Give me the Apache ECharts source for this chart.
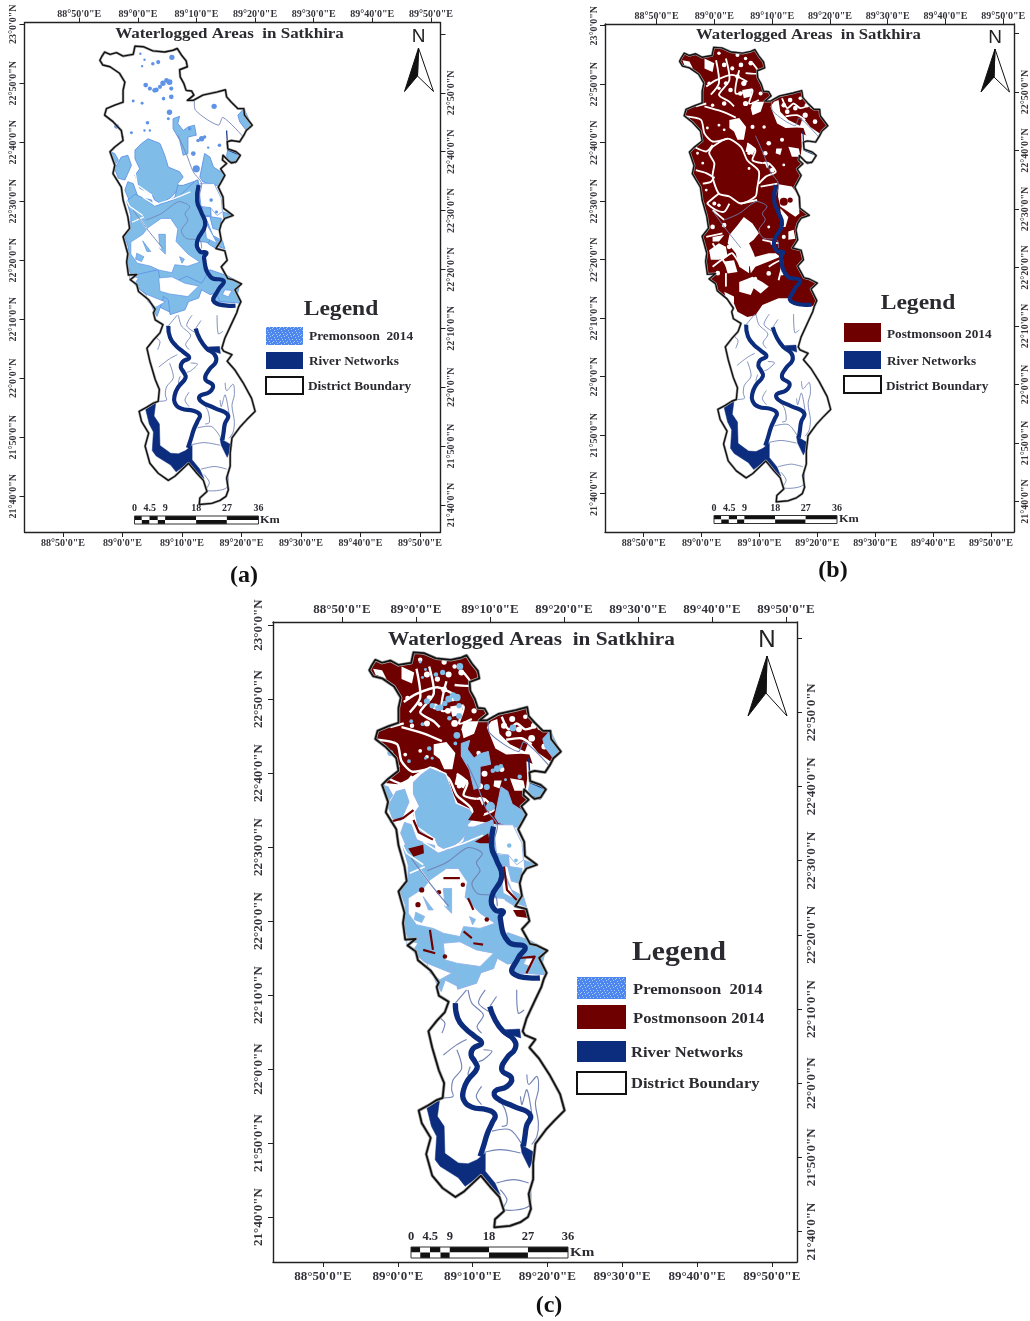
<!DOCTYPE html>
<html><head><meta charset="utf-8">
<style>html,body{margin:0;padding:0;background:#fff}#c{width:1030px;height:1321px}</style>
<script src="https://cdn.jsdelivr.net/npm/echarts@6/dist/echarts.min.js"></script></head>
<body><div id="c"></div>
<script>
// All map data: [arc-minutes east of 88°00', arc-minutes north of 21°00']
const lonTickValues=[50,60,70,80,90,100,110];
const lonTickLabels=["88°50'0\"E","89°0'0\"E","89°10'0\"E","89°20'0\"E","89°30'0\"E","89°40'0\"E","89°50'0\"E"];
const latTickValues=[120,110,100,90,80,70,60,50,40];
const latTickLabels=["23°0'0\"N","22°50'0\"N","22°40'0\"N","22°30'0\"N","22°20'0\"N","22°10'0\"N","22°0'0\"N","21°50'0\"N","21°40'0\"N"];
const scaleLabels=["0","4.5","9","18","27","36"];

const outlineNorthEast=[[56.5,114.5],[57,115.3],[57.9,114.9],[59,115.2],[60.1,114.6],[61.8,114.9],[62.1,116.3],[63.5,116.2],[65.1,115.5],[67.1,115.3],[68.5,115.6],[69.2,115.9],[69.9,114.8],[70.7,113.8],[70.9,112.8],[69.6,112.3],[69.7,111.1],[70.3,110],[70.7,108.8],[71.6,108.7],[72,108],[70.9,107.1],[71.9,107.1],[73.5,108],[75.8,108.5],[77.3,108.9],[77.5,107.7],[78.3,106.8],[79.4,105.7],[80.4,105.7],[80.5,104.6],[81.8,102.9],[80.8,102],[80.4,101.2],[79.7,100.1],[78.3,100.3],[77.6,100.1],[77.7,98.9],[79.1,98.4],[79.8,97.8],[79.1,96.7],[78.3,96.5],[77.9,96.8],[76.9,97.8],[76.8,97],[77.5,96.4],[76.5,95.5],[77.2,94.4],[76.6,93.3],[76.1,92.4],[76.9,90.7],[77,88.8],[78.6,87.6],[77.2,87.1],[76.6,86.2],[76.3,85.1],[76.6,83.4],[75.7,82],[77.2,81.6],[77.6,80],[76.6,78.9],[77.7,76.9],[78.6,76.7],[80,76],[78.9,75],[79.9,73]];
const outlineSouth=[[79.5,72.1],[79.2,71.1],[78.4,69.4],[77.2,66.8],[76.7,65.1],[77,64.6],[78.4,64],[77.6,62.9],[78.9,61.4],[80.3,59.2],[81.7,56.6],[82.3,54.4],[80.9,53],[79.8,51.8],[78.4,49.9],[78.1,47.3],[78.1,45.1],[77.5,43.1],[77.8,41.1],[77.4,40],[76.4,39.3],[75,38.8],[72.9,38.6],[73,39.7],[74.2,40.8],[73.6,42.7],[72.5,43.9],[71.1,45.6],[68.8,43.4],[67.7,42.7],[66,43.9],[64.6,45.6],[63.8,48.5],[64.4,50.7],[63.2,52.7],[62.8,54.4],[64.1,55.1],[65.2,55.8],[66,56.1],[66.2,58.1],[65.5,59.8],[64.6,62.9],[64.1,65.1],[65.2,66.5],[66.3,67.7],[66.8,69.1],[65.5,69.9],[65.2,71.1],[65.5,71.7]];
const outlineWest=[[64.4,73.3],[62.7,74.7],[62.4,75.9],[61.3,76.7],[62.4,77.6],[61,77.5],[60.7,79.7],[60.9,81.1],[60.1,84],[61.2,85.4],[60.9,87.4],[60.1,90.2],[59.8,92.4],[58.4,94.7],[58.7,96.1],[57.9,98.4],[58.7,99.2],[60.1,100.3],[59.8,102],[58.4,103.5],[57,104.6],[57.3,105.7],[58.7,106.3],[60.1,106.8],[60.1,108.8],[60.4,110.2],[59.5,111.7],[57.9,112.8],[56.7,113.1],[56.2,113.9]];
const maroonSouthEdge=[[79.6,72.1],[75.9,72.25],[75.3,73.4],[73.3,73.4],[70.5,72.25],[69.3,70.5],[67.9,70.2],[66.2,71.1],[65.6,72.5],[64.2,73.7]];

const premonsoonAreas=[
[[64.3,100.6],[66.3,99.8],[67.1,97.8],[67.7,95.8],[69.6,95],[70.2,94.1],[69.3,93],[69.5,92.2],[68.2,90.7],[66.5,89.6],[65.4,90.2],[64.9,91.3],[62.9,92.2],[62.1,94.4],[62.9,95.5],[62.1,97.2],[62.1,98.7],[63.2,99.8]],
[[73.8,98.1],[74.7,97.5],[75.3,95.8],[77,94.7],[76.9,93.6],[76.1,92.6],[73.5,93.3],[73,94.1]],
[[70.2,92.7],[72.7,93.6],[73,91],[73.8,87.9],[74.4,85.7],[74.1,83.4],[73,83.4],[71.3,83.4],[69.9,84],[69.3,85.7],[69.1,86.8],[67.7,88.2],[64.6,86.5],[63.7,87.4],[66.3,88.5],[67.1,89.6],[68.8,90.7],[69.3,92.7]],
[[59.8,97.5],[60.9,97.8],[61.5,96.1],[60.4,93.6],[59.3,93.9],[58.7,95.5]],
[[60.9,93.3],[61.8,93],[62.7,90.5],[61.2,90],[60.4,91.9]],
[[63.7,90.5],[64.9,90.2],[65.1,88.5],[64,87.9],[62.9,88.5]],
[[60.7,90.05],[61.4,87.6],[61.4,85.8],[60.3,84.2],[61,82.2],[60.8,79.25],[61.4,77.7],[63,77],[62.1,75.9],[63.6,74.5],[65,73.85],[65.6,72.95],[67,72.95],[66.3,72.05],[68.1,71.15],[70.5,73.4],[72.8,75],[75.4,75.2],[75.4,72.95],[79,72.95],[79.7,75.9],[77.2,75.65],[77.45,76.55],[75,77],[73.7,80.15],[74.1,81.3],[73,81.5],[72.55,83.2],[73.9,83.1],[77.2,81.95],[76.8,83.3],[75.2,84.2],[74.3,86.45],[73,89.15],[73,92.3],[72.55,93.65],[71,92.3],[69.2,90.5],[65.4,89.15],[63.6,90.5],[62.1,91.2]],
[[73.5,88.8],[74.8,88.8],[74.9,87.4],[73.8,87.4]],
[[74.7,87.4],[76.6,87.1],[76.3,85.1],[75.2,85.4]],
[[76.9,88.2],[78.5,87.6],[77,87.1]],
[[74.9,84],[76.6,83.1],[75.7,82],[74.4,82.8]],
[[68.5,104],[69.6,104.4],[69.3,103.2],[70.2,102],[71,102.6],[72.1,102.9],[72.4,101.2],[71,100.9],[71,98.1],[70.2,97.8],[69.6,100.4],[68.5,102.3]],
[[79.4,104.6],[80.4,105.7],[81.8,102.7],[80.8,102],[79.7,103.5]],
[[77.7,98.7],[79.7,97.8],[79,96.7],[77.7,96.8],[77.5,97.8]],
[[57.9,98.4],[58.7,98.1],[59.3,97],[58.7,96.1]],
[[61.3,76.7],[62.4,77.6],[66,78.4],[66.6,75.3],[70.8,77.3],[73.3,76.1],[74.7,78.4],[77.8,77.3],[80,76],[78.9,75],[79.8,72.75],[76.4,73],[75.8,74.4],[74.7,74.2],[73.3,75],[72.8,73.6],[71.1,73],[70.5,71.6],[68,70.8],[67.7,73.3],[66.9,73.9],[66.6,72.75],[65.8,70.5],[65.2,71.6],[64.1,74.2],[63,75]]
];
const premonsoonGaps=[
[[61.4,83.1],[63.4,84.4],[64.3,85.55],[66.5,87.1],[68.1,87.1],[69.3,85.3],[69,83.2],[71,81.05],[73,79.7],[71,79],[68.8,79.25],[68.3,77.9],[66.1,78.35],[64.75,79],[62.5,79.5],[61.4,81.05]],
[[66.1,77],[68.3,77.2],[70.5,76.1],[72.8,75.65],[71,73.85],[67.9,74.3],[66.3,74.75]],
[[73,93],[75.4,93],[76.6,90.5],[76.8,88.25],[75.9,87.6],[74.8,88.9],[73.2,89.15],[73,90.95]],
[[74.1,86.2],[75.2,84.2],[75.9,82.85],[74.1,83.75],[73.9,85.55]],
[[61.2,77.45],[62.7,77],[62.1,76.1],[61.2,76.8]],
[[63.9,74.3],[67.2,72.95],[65.6,72.05],[64.3,72.95]],
[[77.2,75],[78.4,74.9],[77.8,73.8],[76.8,74.2]]
];
const premonsoonStreaks=[
[[63.4,83.3],[64.75,81.5],[64.1,81.5]],
[[66.1,84.4],[67.2,84.4],[67.2,81.05],[66.3,81.95]],
[[73.2,88.9],[74.8,88.9],[74.8,87.6],[73.5,87.6]],
[[62.4,81.2],[63.6,80.6],[63.2,79.8],[62.2,80.2]],
[[69.6,80.6],[70.4,80.2],[70,79.5]]
];
const premonsoonDividers=[
[[60.3,90.95],[61.2,89.15],[63.4,87.6]],
[[63.4,90.7],[65.4,89.4],[68.8,90.5],[71.4,91.6]],
[[63.6,87.35],[61.6,86.45]],
[[62.1,95],[62.5,92.75],[65,91]],
[[63,86.9],[66.5,82]]
];
const premonsoonSpots=[[68.3,114.4,.45],[66,113.6,.35],[65.1,113.3,.3],[63,115,.2],[63.3,112.9,.2],[63.7,114,.2],[63.9,109.7,.4],[64.6,109.1,.35],[65.7,108.9,.4],[66.8,110,.45],[67.9,110.2,.5],[68.2,109.1,.35],[66.9,107.4,.3],[68.2,107.7,.4],[61.8,107,.25],[63.3,106.6,.25],[67.9,105.1,.45],[67.7,104,.25],[64.2,103.3,.3],[64.6,102,.2],[63.7,102,.2],[61.5,101.6,.25],[59,102.7,.4],[75.4,106.1,.45],[73.3,100.6,.45],[74.4,99.1,.2],[76.3,99.5,.3],[71.9,98.1,.4],[74.9,90.2,.3],[75.8,88.2,.25],[72.4,95.5,.6],[60.1,100.9,.2],[73.8,100.9,.3],[72.7,100.3,.3],[71.3,102.3,.3],[65.4,108.8,.4],[66.3,109.4,.35],[67.4,110.5,.4]];

const postmonsoonGaps=[
[[73.3,92.9],[75.6,92.5],[76.7,91.05],[76.9,87.9],[76.2,87.35],[74.5,88.5],[73.6,89.1],[73.2,90.8]],
[[64.8,103.9],[66.5,104.2],[67.7,102.7],[67.3,100.5],[66.2,100.5],[65.6,101.9],[64.8,102.5]],
[[72.9,99],[73.9,99],[73.6,97.9],[72.8,98.2]],
[[75,99.3],[76.8,99],[77.1,97.6],[75.6,97.6]],
[[72.5,107],[73.3,107.3],[73.6,105.3],[75,103.9],[77,102.9],[77.5,104.3],[78.8,102.7],[80.8,101.3],[80.5,100.2],[79.1,100.5],[78,101.3],[77.6,102.5],[76.5,102.6],[74.5,102.5],[73.05,103.3],[71.9,106.2]],
[[77.2,101.6],[77.9,101.3],[80.8,100.7],[80.2,96.5],[78.8,96.4],[77.6,94.2],[77.2,94.8],[77.1,97.6],[77.3,99.3]],
[[64.8,84.2],[66.2,85.9],[67.3,87.3],[68.8,86.2],[69.9,84.5],[69,83.4],[68.2,82.8],[69,81.1],[69.3,80.2],[68.2,78.8],[68.2,77.7],[66.5,78.8],[65.9,81.1],[64.5,82.8]],
[[63,82.8],[64.2,82.2],[64.5,80.5],[63,80],[61.6,80],[61.3,81.6]],
[[66.5,76.2],[68.8,77.1],[70.5,76.2],[71.6,75.4],[70.2,74.2],[69,75.1],[68.5,73.95],[66.5,74.5]],
[[68.2,79.7],[69.3,80.5],[71.6,81.1],[72.8,81.1],[73.6,80.5],[71.6,79.7],[69.3,78.8],[68.5,77.7]],
[[61.9,83.9],[63.9,84.2],[63,83.1],[61.9,83.1]],
[[75,84.8],[75.9,85.1],[76.2,83.6],[75,83.4]],
[[73.6,88.8],[75,87.3],[74.5,85.6],[73.8,85.6]],
[[63.9,74.5],[65.6,73.7],[65.6,72.5],[64.2,73.4]],
[[68.8,107],[70.8,107],[70.2,105.3],[68.8,104.7],[68.5,105.9]],
[[70.8,96.8],[71.9,96.5],[71.3,95.6]],
[[67.9,99.9],[69.4,99],[68.8,97.9],[67.6,98.5]],
[[56.7,114.1],[57.9,113.9],[58.5,112.7],[57,113.3]],
[[60.5,114.4],[62.2,113.6],[61.9,112.1],[60.5,112.7]],
[[67,109],[68.8,109.3],[68.5,107.9],[67.3,107.6]],
[[63.9,79.7],[65.6,79.9],[66.2,77.9],[64.5,77.65]]
];
const postmonsoonChannels=[
[[61.9,99.3],[64.5,100.7],[66.8,99.3],[67.9,97],[69.9,95.1],[69.6,92.2],[69.3,90.8],[66.8,89.6],[64.8,90.8],[63,91.3],[61.9,94.2],[62.2,96.5],[61.3,98.2],[61.9,99.3]],
[[57.3,104.5],[59.9,103.9],[60.5,101.6],[61.9,100.2],[64.5,100.7]],
[[58.7,99.3],[60.8,98.5],[61.9,99.6]],
[[59,95.3],[60.8,94.8],[61.9,94.2]],
[[60.2,93],[61.6,93.3],[62.2,94.2]],
[[63,91.3],[61.6,90.2],[61,89.6],[62.5,88.5],[63.9,88.2],[64.8,89.6]],
[[60.8,109.6],[62.5,110.7],[65.3,111.6],[67.9,110.4]],
[[60.5,106.2],[63.6,105.3],[65.9,104.3]],
[[62.5,114.1],[63,110.2],[61.6,108.2]],
[[66.5,112.4],[65.9,108.4],[68.8,109],[68.2,106.7],[69.9,107.3]],
[[64.2,114.4],[64.8,110.7],[63,108.2],[64.8,107],[65.6,106.2]],
[[59,106.2],[60.8,106.7]],
[[67.6,111.9],[69.9,111.9],[68.8,113.6]],
[[70.5,96.5],[71.6,96.5],[72.8,95],[71.1,94.2],[69.9,93]],
[[67.9,99.9],[69.3,98.7],[68.8,97],[70.5,96.5]],
[[73.1,93],[70.2,92.5]],
[[66.8,89.6],[69.6,90.2]],
[[61.9,88.5],[63.9,86.8]],
[[60.8,83.9],[63.6,84.5]],
[[61.9,78.8],[64.2,80.5],[65.3,81.1],[66.8,78.8]],
[[61.9,82.8],[64.8,78.2]],
[[64.2,77.7],[64.2,75.4]],
[[71.6,78.8],[73.9,79.9],[73.3,76.5]],
[[70.5,83.4],[73.3,82.8]],
[[73.9,107.6],[74.8,105.9],[75.9,106.7],[77.05,105.9],[78.5,106.4]],
[[74.5,104.5],[76.5,104.7],[77.9,103.9]]
];
const postmonsoonSpecks=[[63,115.3,.3],[64.5,115.85,.25],[66.2,115,.35],[67.6,114.4,.3],[61.3,113.6,.3],[63.9,113.3,.4],[65.3,112.7,.35],[66.8,113.3,.4],[68.5,113.6,.4],[66.2,111.3,.4],[67.3,110.15,.45],[64.2,110.15,.35],[61.3,110.15,.3],[63,109.3,.3],[65,109,.4],[66.7,108.4,.4],[61.9,106.4,.3],[63.9,106.7,.4],[67.6,106.7,.45],[70.2,108.4,.35],[59.6,108.15,.25],[74.2,106.4,.4],[75.3,107.3,.4],[77.05,107.6,.3],[78.2,106.4,.4],[76.2,105.9,.4],[74.8,105.3,.4],[77.9,104.7,.45],[79.6,103.6,.4],[79.05,106.2,.4],[63.9,102.2,.25],[63,103,.25],[61,102.5,.25],[58.5,101.6,.25],[59.3,98.2,.25],[60.2,96.5,.25],[60.8,91.9,.25],[62.2,89.6,.35],[63,89.3,.3],[71.6,99.9,.4],[73.9,100.5,.35],[70.8,102.7,.3],[68.8,102.7,.35],[68.2,98.2,.3],[71,98.2,.4],[68.2,95.6,.25],[72.2,95.3,.4],[74.2,96.2,.25],[61.9,85.6,.4],[63.9,85.9,.4],[62.8,77.7,.4],[69.3,76.8,.3],[71.6,77.65,.4],[64.75,82.2,.4],[73.9,77.65,.35],[72.2,82.8,.3],[71.6,85.6,.25],[74.2,83.9,.35]];
const postmonsoonIslands=[[74.2,89.9,.7],[75.3,90.2,.45]];
// Panel (c): where the premonsoon layer replaces the postmonsoon one
const combinedMask=[[55,99],[60,98.5],[62,99.5],[64.3,100.9],[66.5,100],[67.5,97],[68,96],[70,95],[71,93.5],[73,93],[76.5,93],[79,93],[80.5,70],[55,70]];
const combinedPatches=[
[[61.4,89.8],[63.4,90.3],[63.5,89.15],[62.1,88.7]],
[[69.4,93.65],[70.3,95],[71.7,95],[71.2,93.4]],
[[70.3,90.7],[72.1,91.85],[72.3,90.5],[71,90.5]],
[[75.4,81.5],[77.2,81.5],[77.4,80.4],[75.9,80.6]]
];
const combinedStrands=[
[[58.95,93.4],[60.7,93.9],[62.1,95]],
[[62.1,93.65],[62.8,92],[64.7,91]],
[[74.2,87.35],[74.6,84.2],[75.9,82.85]],
[[76.3,75],[78.3,75.2],[77.2,72.95]],
[[68.8,78.6],[69.9,77.7]],
[[70.1,77],[71.4,76.8]],
[[66.1,85.8],[68.3,85.8]],
[[64.3,78.8],[64.7,76.1]],
[[63.4,76.1],[65,75.65]],
[[69.4,83.1],[70.1,81.5]]
];
const combinedDots=[[63.2,84.2,.35],[62.7,82.2,.35],[71.9,80.2,.3],[65.5,83.9,.3],[68.7,84.9,.3],[66.3,75.2,.3]];

const mainRivers=[
[[72.8,92.75],[72.55,90.05],[73.2,88.25],[73.9,86],[72.55,83.2],[73,81.5],[74.1,81.3],[73.7,80.4],[74.8,77.2],[77,76.5],[76.1,75],[75.4,72.95],[79,72.3]],
[[67.7,68.9],[68,66.9],[69,65.5],[70.3,64.4],[71.2,63.5],[70.1,62.8],[69.8,61.9],[70.3,61],[70.6,60.1],[69.4,58.55],[68.8,57.2],[68.8,55.85],[69.9,54.85],[71.9,54.5],[73,53.8],[72.6,52.7],[72,51.35],[71.45,49.55],[71,48.2]],
[[72.3,68.45],[73,66.65],[74.1,65.1],[75.5,64],[75.7,62.8],[74.6,61.5],[73.9,59.9],[75.2,58.8],[74.6,57.65],[73,57],[73.2,56.1],[75.5,54.95],[77.7,53.8],[77.2,52.25],[77,50.9],[76.8,49.55]]
];
const estuaries=[
[[63.9,54.7],[65.6,55.9],[65.3,53.6],[66.2,52.25],[66.3,48.6],[68.1,47.3],[69.4,47.2],[70.6,47.75],[71.7,48.65],[71.7,46.2],[73,44.6],[73.7,43],[72.6,43.7],[71,45.7],[69.9,44.8],[69,44.15],[68.1,45.3],[65.65,46.85],[65,47.75],[65.2,50.9],[64.5,52.25]],
[[76.4,49.8],[78.4,48.65],[77.6,46.6],[76.6,48.65]],
[[74.35,65.3],[76.3,65.4],[76.45,64.2],[75.2,64.6]]
];
const minorRivers=[
[[69.2,64],[67.9,63.3],[66.1,61.9]],
[[65.65,66.9],[66.3,66.2],[65.9,64.85]],
[[67.9,62.6],[68.55,60.1],[67.4,58.55],[67.2,57.2],[67.4,56.3],[66.1,56.1]],
[[69.7,60.35],[69.4,59.2],[70,59.1]],
[[71.2,57.65],[70.5,56.3],[71.2,55.2]],
[[71.45,62.6],[72.6,62.4],[71.45,61.25],[70.8,61]],
[[73.2,56.3],[74.35,54.5],[74.6,52.5],[73.9,52.25]],
[[72.6,51.6],[75,51.8],[76.6,49.8]],
[[71.2,48.65],[73.7,49.1],[76.4,48.65]],
[[73.2,44.6],[75.5,45.05],[77.5,44.6]],
[[73.7,43.7],[74.6,42.35],[74.1,41],[77.5,41.45],[77.7,44.15]],
[[77.25,59.25],[77.5,57.9],[78.6,59],[78.8,57.2],[78.4,55.4],[78.8,52.7],[78.6,50.9],[77.9,49.8]],
[[76.4,56.3],[76.6,55.2],[77.25,57.2],[77.9,54.05]],
[[69.4,70.7],[69.9,68.9],[71.45,67.3],[70.6,65.75],[71.2,64.85]],
[[71.7,70.7],[70.8,68.9],[72.6,67.55]],
[[75.9,70.7],[76.1,67.55],[76.9,68]],
[[69.2,70.7],[67.7,68.9]],
[[73.2,69.8],[72.3,68.45]],
[[63.9,86.8],[66.5,87.9],[69.3,89.9],[70.7,89.6],[71.3,89.05],[70.5,87.9],[71,86.8],[69.9,85.1],[70.7,83.7],[73,83.4],[73.3,82]],
[[69.3,101.2],[70.7,98.1],[71.9,95],[73.3,93],[72.7,90.7]],
[[72.1,107.1],[72.3,105.4],[76.1,102.9],[76.9,104.2],[80.3,100.9]],
[[61.8,88.5],[64.3,85.1],[66.8,82]]
];
const creekLinks=[[[77.5,102],[77.7,98.7],[79.8,97.8]],[[77.9,96.8],[79.1,96.5]]];

const BLUE='#7fbde8', BLUE_EDGE='#5f93e6', MAROON='#6e0000', RIVER='#0c2c7e', MINOR='#7283b5';

const panels=[
 {left:24.5,top:22.7,right:440.5,bottom:532,k:1,font:10,m:6,mt:3,
  xb:[43.53,113.45],xt:[40.65,111.64],yl:[33.95,120.27],yr:[35.41,121.92]},
 {left:605,top:24,right:1017,bottom:532,k:.98,font:10,m:6,mt:3,
  xb:[43.31,113.98],xt:[41.07,111.86],yl:[33.45,120.29],yr:[34.79,121.62]},
 {left:273,top:622,right:797,bottom:1262,k:1.26,font:13,m:8,mt:6,
  xb:[43.32,113.37],xt:[40.68,111.49],yl:[33.92,120.41],yr:[35.9,122.16]}
];
const FONT='"Liberation Serif",serif', INK='#2a2a30';

function axisCommon(values,labels,font,rotate,margin){
 return {type:'value',axisLine:{show:true,onZero:false,lineStyle:{color:'#222',width:1.4}},
  axisTick:{show:true,length:5,customValues:values,lineStyle:{color:'#222',width:1}},
  splitLine:{show:false},
  axisLabel:{show:true,customValues:values.filter(v=>labels[v]!==undefined),rotate:rotate,margin:margin,
   fontFamily:FONT,fontWeight:'bold',fontSize:font,color:'#33333a',hideOverlap:false,
   formatter:v=>labels[v]}};
}
const lonMap={},latMap={},latMapR={};
lonTickValues.forEach((v,i)=>lonMap[v]=lonTickLabels[i]);
latTickValues.forEach((v,i)=>{latMap[v]=latTickLabels[i]; if(i>0) latMapR[v]=latTickLabels[i];});

const grid=[],xAxis=[],yAxis=[],series=[];
panels.forEach((p,i)=>{
 grid.push({left:p.left,top:p.top,width:p.right-p.left,height:p.bottom-p.top,containLabel:false});
 xAxis.push(Object.assign(axisCommon(lonTickValues,lonMap,p.font,0,p.m),{gridIndex:i,position:'bottom',min:p.xb[0],max:p.xb[1]}));
 xAxis.push(Object.assign(axisCommon(lonTickValues,lonMap,p.font,0,p.mt),{gridIndex:i,position:'top',min:p.xt[0],max:p.xt[1]}));
 yAxis.push(Object.assign(axisCommon(latTickValues,latMap,p.font,90,p.m),{gridIndex:i,position:'left',min:p.yl[0],max:p.yl[1]}));
 yAxis.push(Object.assign(axisCommon(latTickValues,latMapR,p.font,90,p.m),{gridIndex:i,position:'right',min:p.yr[0],max:p.yr[1]}));
});

function shapes(panel,list,style,closed,z,smooth){
 series.push({type:'custom',coordinateSystem:'cartesian2d',xAxisIndex:panel*2,yAxisIndex:panel*2,z:z,silent:true,clip:false,
  animation:false,data:list.map((p,i)=>[p[0][0],p[0][1],i]),encode:{x:0,y:1},
  renderItem:(params,api)=>({type:closed?'polygon':'polyline',
    shape:{points:list[api.value(2)].map(q=>api.coord(q)),smooth:smooth||0},style:style})});
}
function spots(panel,list,style,z){
 series.push({type:'custom',coordinateSystem:'cartesian2d',xAxisIndex:panel*2,yAxisIndex:panel*2,z:z,silent:true,clip:false,
  animation:false,data:list,encode:{x:0,y:1},
  renderItem:(params,api)=>{const c=api.coord([api.value(0),api.value(1)]);
    return {type:'circle',shape:{cx:c[0],cy:c[1],r:api.size([api.value(2),0])[0]},style:style};}});
}
function drawBlue(i,k,z,edge,spotFill){
 shapes(i,premonsoonAreas,{fill:BLUE,stroke:edge,lineWidth:.9*k,lineJoin:'round'},true,z);
 shapes(i,premonsoonGaps,{fill:'#fff',stroke:edge,lineWidth:.7*k,lineJoin:'round'},true,z+.1);
 shapes(i,premonsoonStreaks,{fill:BLUE,stroke:edge,lineWidth:.7*k},true,z+.15);
 shapes(i,premonsoonDividers,{fill:null,stroke:'#fff',lineWidth:1.3*k},false,z+.17);
 spots(i,premonsoonSpots,{fill:spotFill,stroke:null},z+.2);
}
function drawMaroon(i,k,z){
 shapes(i,[outlineNorthEast.concat(maroonSouthEdge,outlineWest)],{fill:MAROON,stroke:null},true,z);
 shapes(i,postmonsoonGaps,{fill:'#fff',stroke:null,lineJoin:'round'},true,z+.1);
 shapes(i,postmonsoonChannels,{fill:null,stroke:'#fff',lineWidth:1.9*k,lineJoin:'round'},false,z+.2,.25);
 spots(i,postmonsoonSpecks,{fill:'#fff',stroke:null},z+.25);
 spots(i,postmonsoonIslands,{fill:MAROON,stroke:null},z+.3);
}
function drawBase(i,k){
 shapes(i,minorRivers,{fill:null,stroke:MINOR,lineWidth:.9*k,lineJoin:'round'},false,20,.3);
 shapes(i,creekLinks,{fill:null,stroke:RIVER,lineWidth:1.2*k,lineJoin:'round'},false,21);
 shapes(i,mainRivers,{fill:null,stroke:RIVER,lineWidth:4.2*k,lineJoin:'round'},false,22,.5);
 shapes(i,estuaries,{fill:RIVER,stroke:RIVER,lineWidth:.5},true,22);
 shapes(i,[outlineNorthEast.concat(outlineSouth,outlineWest)],{fill:null,stroke:'#a8a8a8',lineWidth:2.6*k,lineJoin:'round'},true,23);
 shapes(i,[outlineNorthEast.concat(outlineSouth,outlineWest)],{fill:null,stroke:'#111',lineWidth:1.4*k,lineJoin:'round'},true,24);
}
drawBlue(0,1,10,BLUE_EDGE,BLUE_EDGE); drawBase(0,1);
drawMaroon(1,.98,10); drawBase(1,.98);
drawMaroon(2,1.26,8);
shapes(2,[combinedMask],{fill:'#fff',stroke:null},true,9);
drawBlue(2,1.26,10,'#8fb4e8',BLUE);
shapes(2,combinedPatches,{fill:MAROON,stroke:null},true,12);
shapes(2,combinedStrands,{fill:null,stroke:MAROON,lineWidth:2.2,lineJoin:'round'},false,12);
spots(2,combinedDots,{fill:MAROON,stroke:null},12);
drawBase(2,1.26);

// Stipple pattern for the "Premonsoon" legend swatch
const pat=document.createElement('canvas');pat.width=pat.height=7;
const pc=pat.getContext('2d');pc.fillStyle='#4d86ee';pc.fillRect(0,0,7,7);
pc.fillStyle='#a9cdf5';[[1,1],[4,0],[2,3],[5,3],[0,5],[3,5],[6,6]].forEach(q=>pc.fillRect(q[0],q[1],1,1));
const stipple={image:pat,repeat:'repeat'};

const g=[];
const text=(x,y,t,size,align,sx)=>g.push({type:'text',x:x,y:y,scaleX:sx||1,silent:true,style:{text:t,font:`bold ${size}px ${FONT}`,fill:INK,align:align||'left',verticalAlign:'middle'}});
const rect=(x,y,w,h,fill,stroke,lw)=>g.push({type:'rect',silent:true,shape:{x:x,y:y,width:w,height:h},style:{fill:fill,stroke:stroke||null,lineWidth:lw||0}});
const poly=(pts,fill,stroke,lw)=>g.push({type:'polygon',silent:true,shape:{points:pts},style:{fill:fill,stroke:stroke||null,lineWidth:lw||0}});

text(229.5,34.5,'Waterlogged Areas  in Satkhira',14.5,'center',1.17);
text(808.5,35.5,'Waterlogged Areas  in Satkhira',14.5,'center',1.15);
text(531.5,640,'Waterlogged Areas  in Satkhira',18.5,'center',1.15);

function north(nx,ny,nsize,ax,ay,lx,ix,iy,rx,by){
 g.push({type:'text',x:nx,y:ny,silent:true,style:{text:'N',font:`${nsize}px "Liberation Sans",sans-serif`,fill:'#222',align:'center',verticalAlign:'middle'}});
 poly([[ax,ay],[rx,by],[ix,iy]],'#fff','#111',1);
 poly([[ax,ay],[lx,by],[ix,iy]],'#111','#111',1);
}
north(418.5,37,19,418.5,48,404.5,417.5,76,433.5,91.5);
north(995,37.5,19,995,49,981,994,77,1009.5,92);
north(767,640.5,24,767,656,748,766,693,787,716);

function scaleBar(x,y,w,h,size,kmX,labelY){
 const stops=[0,.059,.121,.188,.247,.497,.745,1];
 for(let i=0;i<7;i++){
  const a=x+stops[i]*w,b=(stops[i+1]-stops[i])*w;
  rect(a,y,b,h/2,i%2?'#fff':'#111');
  rect(a,y+h/2,b,h/2,i%2?'#111':'#fff');
 }
 rect(x,y,w,h,null,'#333',1);
 [0,.123,.247,.497,.745,1].forEach((f,i)=>text(x+f*w,labelY,scaleLabels[i],size,'center'));
 text(kmX,y+h/2,'Km',size+1,'left',1.12);
}
scaleBar(134.5,516,124,8,10,260,508);
scaleBar(714,515.5,123,8,10,839,508);
scaleBar(411,1247,157,11,12.5,570,1237);

function legend(cx,cy,lsize,lsx,tx,tsize,tsx,sx,sw,rows){
 text(cx,cy,'Legend',lsize,'center',lsx);
 rows.forEach(r=>{
  if(r[0]==='b') rect(sx,r[1],sw,r[2]-r[1],'#fff','#111',2);
  else rect(sx,r[1],sw,r[2]-r[1],r[0]==='p'?stipple:r[0]==='m'?MAROON:RIVER);
  text(r[5]||tx,r[3],r[4],tsize,'left',tsx);
 });
}
legend(341,309.5,22,1.07,309,12,1.11,266,37,[['p',327,345,337,'Premonsoon  2014'],['r',352,369,362,'River Networks'],['b',377,394,387,'District Boundary',308]]);
legend(918,303.5,22,1.07,887,12,1.1,844,37,[['m',323,342,335,'Postmonsoon 2014'],['r',351,369,362,'River Networks'],['b',376,393,387,'District Boundary',886]]);
legend(679,953,27,1.1,633,15.5,1.07,577,49,[['p',977,999,989.5,'Premonsoon  2014'],['m',1005,1029,1019,'Postmonsoon 2014'],['r',1041,1062,1053,'River Networks',631],['b',1072,1094,1084,'District Boundary',631]]);

const cap=(x,y,t)=>g.push({type:'text',x:x,y:y,silent:true,style:{text:t,font:`bold 24px "Liberation Serif",serif`,fill:'#111',align:'center',verticalAlign:'middle'}});
cap(244,576,'(a)');cap(833,571,'(b)');cap(549,1306,'(c)');

const chart=echarts.init(document.getElementById('c'),null,{renderer:'canvas'});
chart.setOption({animation:false,backgroundColor:'#fff',grid:grid,xAxis:xAxis,yAxis:yAxis,series:series,graphic:{elements:g}});
</script></body></html>
